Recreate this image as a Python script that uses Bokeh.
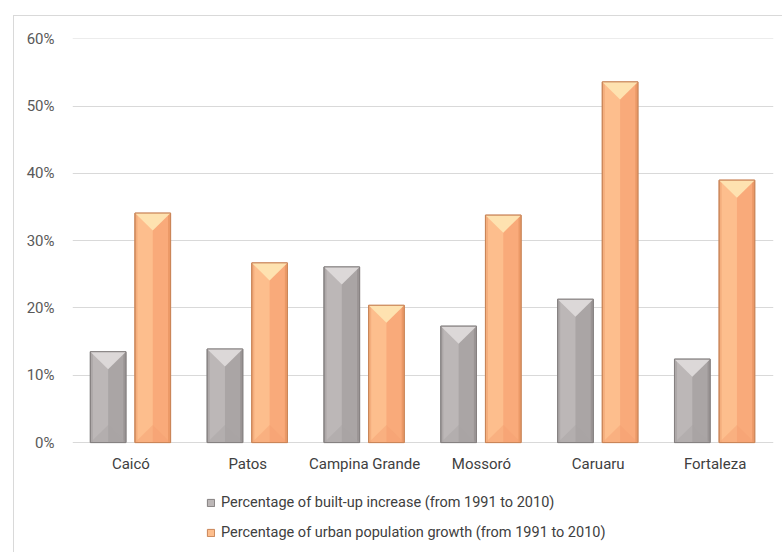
from bokeh.plotting import figure
from bokeh.models import (Range1d, FixedTicker, PrintfTickFormatter, Legend, LegendItem)
from bokeh.core.properties import value
from bokeh.embed import file_html
from bokeh.resources import INLINE

# ---- data ----
categories = ["Caicó", "Patos", "Campina Grande", "Mossoró", "Caruaru", "Fortaleza"]
built_up = [13.5, 13.9, 26.1, 17.3, 21.3, 12.4]          # % built-up increase 1991-2010
urban_growth = [34.1, 26.7, 20.4, 33.8, 53.6, 39.0]      # % urban population growth 1991-2010
y_ticks = [0, 10, 20, 30, 40, 50, 60]
series_labels = ["Percentage of built-up increase (from 1991 to 2010)",
                 "Percentage of urban population growth (from 1991 to 2010)"]

FONT = "Roboto"
FS = "15px"

# frame runs from y=38 (60 %) to the bottom of the canvas; 0 % sits 110 px above it
Y_BOTTOM = -110 / (404 / 60)

p = figure(width=782, height=552, output_backend="svg", toolbar_location=None,
           x_range=Range1d(0, len(categories)), y_range=Range1d(Y_BOTTOM, 60.05),
           min_border_left=72, min_border_right=9, min_border_top=38, min_border_bottom=0)
p.outline_line_color = None
p.background_fill_color = "white"
p.border_fill_color = None
p.styles = {
    "background": ("linear-gradient(#d9d9d9,#d9d9d9) 13px 15px / 1px 100% no-repeat, "
                   "linear-gradient(#d9d9d9,#d9d9d9) 13px 15px / 100% 1px no-repeat, white"),
}

# grid / axes
p.xgrid.grid_line_color = None
p.xaxis.visible = False
p.ygrid.grid_line_color = "#d9d9d9"
p.ygrid.grid_line_width = 1
p.yaxis.ticker = FixedTicker(ticks=y_ticks)
p.yaxis.formatter = PrintfTickFormatter(format="%d%%")
p.yaxis.axis_line_color = None
p.yaxis.major_tick_line_color = None
p.yaxis.minor_tick_line_color = None
p.yaxis.major_label_standoff = 12
p.yaxis.major_label_text_font = FONT
p.yaxis.major_label_text_font_size = FS
p.yaxis.major_label_text_color = "#595959"

centers = [i + 0.5 for i in range(len(categories))]

# category labels under the 0 % baseline
p.text(x=centers, y=[0] * len(categories), text=categories, y_offset=21,
       text_align="center", text_baseline="middle",
       text_font=value(FONT), text_font_size=FS, text_color="#404040")

W = 0.305          # bar width (category units)
EDGE = 0.022       # bevel edge width
TRI = 2.6          # top bevel depth (y units)


def beveled_bars(values, offset, left_col, right_col, top_col, bottom_col, edge_col, outline):
    xs = [c + offset for c in centers]
    l = [x - W / 2 for x in xs]
    r = [x + W / 2 for x in xs]
    base = p.quad(left=l, right=r, bottom=0, top=values, fill_color=left_col,
                  line_color=outline, line_width=1)
    p.quad(left=xs, right=r, bottom=0, top=values, fill_color=right_col, line_color=None)
    p.quad(left=l, right=[v + EDGE for v in l], bottom=0, top=values,
           fill_color=edge_col, fill_alpha=0.3, line_color=None)
    p.quad(left=[v - EDGE for v in r], right=r, bottom=0, top=values,
           fill_color=edge_col, fill_alpha=0.55, line_color=None)
    bxs = [[a, x, b] for a, x, b in zip(l, xs, r)]
    bys = [[0, TRI, 0] for _ in values]
    p.patches(bxs, bys, fill_color=bottom_col, fill_alpha=0.45, line_color=None)
    txs = [[a, x, b] for a, x, b in zip(l, xs, r)]
    tys = [[v, v - TRI, v] for v in values]
    p.patches(txs, tys, fill_color=top_col, line_color=None)
    p.quad(left=l, right=r, bottom=0, top=values, fill_color=None,
           line_color=outline, line_width=1)
    return base


r1 = beveled_bars(built_up, -0.195, "#bcb7b7", "#aaa5a5", "#dcd8d8", "#a9a4a4", "#8c8787", "#858080")
r2 = beveled_bars(urban_growth, 0.187, "#fdbe8d", "#f9aa7a", "#fee2b0", "#f3a070", "#e08a58", "#c98558")

legend = Legend(items=[LegendItem(label=series_labels[0], renderers=[r1]),
                       LegendItem(label=series_labels[1], renderers=[r2])],
                location=(134, 10), orientation="vertical",
                glyph_width=9, glyph_height=9, label_standoff=6,
                label_height=20, spacing=10, padding=5, margin=0,
                label_text_font=FONT, label_text_font_size="14.5px",
                label_text_color="#404040",
                background_fill_alpha=0, border_line_color=None)
p.add_layout(legend, "center")

open("out.html", "w").write(file_html(p, INLINE))
